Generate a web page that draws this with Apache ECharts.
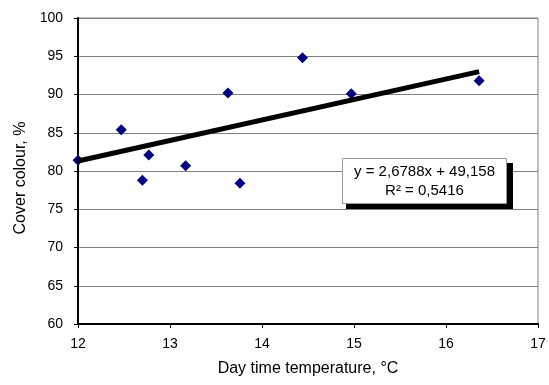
<!DOCTYPE html>
<html>
<head>
<meta charset="utf-8">
<script src="https://cdn.jsdelivr.net/npm/echarts@6/dist/echarts.min.js"></script>
<style>
  html, body { margin: 0; padding: 0; background: #fff; }
  #chart { width: 549px; height: 385px; }
</style>
</head>
<body>
<div id="chart"></div>
<script>
// measured points: day time temperature (°C) vs cover colour (%)
const temperature = [12.0, 12.47, 12.70, 12.77, 13.17, 13.63, 13.76, 14.44, 14.97, 16.36];
const coverColour = [81.4, 85.4, 78.8, 82.1, 80.7, 90.2, 78.4, 94.8, 90.1, 91.8];

// linear trend as printed on the chart
const slope = 2.6788;
const intercept = 49.158;
const rSquared = 0.5416;

const xTicks = [12, 13, 14, 15, 16, 17];
const yTicks = [60, 65, 70, 75, 80, 85, 90, 95, 100];

const fmt = (v, d) => v.toFixed(d).replace('.', ',');

const points = temperature.map((t, i) => [t, coverColour[i]]);
const xLo = Math.min(...temperature);
const xHi = Math.max(...temperature);
const trend = [xLo, xHi].map(x => [x, slope * x + intercept]);

const font = 'Liberation Sans, Arial, sans-serif';

const chart = echarts.init(document.getElementById('chart'));
chart.setOption({
  animation: false,
  backgroundColor: '#fff',
  grid: {
    left: 78, right: 11, top: 18, bottom: 61,
    show: true, borderColor: '#808080', borderWidth: 1
  },
  xAxis: {
    type: 'value',
    min: xTicks[0], max: xTicks[xTicks.length - 1], interval: 1,
    name: 'Day time temperature, °C',
    nameLocation: 'middle', nameGap: 37,
    nameTextStyle: { fontFamily: font, fontSize: 16, color: '#000' },
    axisLine: { lineStyle: { color: '#000', width: 2 } },
    axisTick: { length: 4, lineStyle: { color: '#000' } },
    axisLabel: { fontFamily: font, fontSize: 14, color: '#000', margin: 13 },
    splitLine: { show: false }
  },
  yAxis: {
    type: 'value',
    min: yTicks[0], max: yTicks[yTicks.length - 1], interval: 5,
    name: 'Cover colour, %',
    nameLocation: 'middle', nameGap: 45,
    nameTextStyle: { fontFamily: font, fontSize: 16, color: '#000', padding: [0, 14, 0, 0] },
    axisLine: { show: true, lineStyle: { color: '#000', width: 2 } },
    axisTick: { show: true, length: 4, lineStyle: { color: '#000' } },
    axisLabel: { fontFamily: font, fontSize: 14, color: '#000', margin: 15 },
    splitLine: { show: true, lineStyle: { color: '#808080', width: 1 } }
  },
  series: [
    {
      type: 'scatter',
      data: points,
      symbol: 'diamond',
      symbolSize: [11, 11],
      itemStyle: { color: '#000080', opacity: 1 },
      z: 2
    },
    {
      type: 'line',
      data: trend,
      symbol: 'none',
      lineStyle: { color: '#000', width: 5 },
      z: 3
    }
  ],
  graphic: [
    {
      type: 'rect', left: 346, top: 163, z: 10,
      shape: { width: 167, height: 46 },
      style: { fill: '#000' }
    },
    {
      type: 'rect', left: 342, top: 158, z: 11,
      shape: { width: 164, height: 45 },
      style: { fill: '#fff', stroke: '#9a9a9a', lineWidth: 1 },
      textContent: {
        type: 'text',
        z: 12,
        style: {
          text: 'y = ' + fmt(slope, 4) + 'x + ' + fmt(intercept, 3) + '\nR² = ' + fmt(rSquared, 4),
          font: '15px ' + font, fill: '#000', align: 'center', verticalAlign: 'middle',
          lineHeight: 19
        }
      },
      textConfig: { position: 'inside' }
    }
  ]
});
</script>
</body>
</html>
